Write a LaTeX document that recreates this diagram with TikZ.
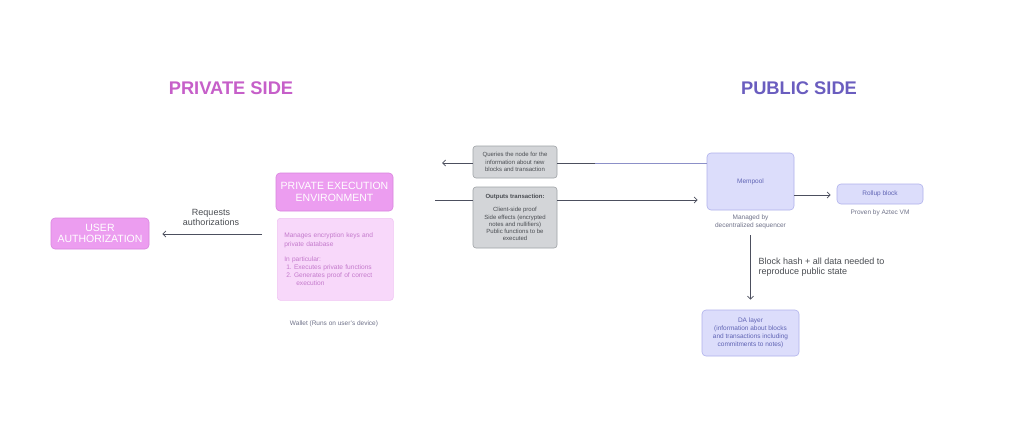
\documentclass[tikz,border=0pt]{standalone}
\usepackage{fontspec}
\setmainfont{Liberation Sans}
\usetikzlibrary{arrows.meta}
\definecolor{privtitle}{HTML}{C65FC9}
\definecolor{pubtitle}{HTML}{6A5DBF}
\definecolor{pinkfill}{HTML}{EC9DF0}
\definecolor{pinkdraw}{HTML}{D985DE}
\definecolor{lpinkfill}{HTML}{F8D8FA}
\definecolor{lpinkdraw}{HTML}{F0C4F3}
\definecolor{lpinktext}{HTML}{C47ACC}
\definecolor{grayfill}{HTML}{D3D5D8}
\definecolor{graydraw}{HTML}{9EA2A6}
\definecolor{graytext}{HTML}{4A4D52}
\definecolor{bluefill}{HTML}{DCDDFB}
\definecolor{bluedraw}{HTML}{B0B2EC}
\definecolor{bluetext}{HTML}{6064B4}
\definecolor{linecol}{HTML}{4C4F5E}
\definecolor{bluelinecol}{HTML}{8C90C8}
\definecolor{captext}{HTML}{70738A}
\tikzset{
  pinkbox/.style={draw=pinkdraw, fill=pinkfill, rounded corners=4pt, line width=0.6pt, text=white, align=center, font=\fontsize{10.5}{11.5}\selectfont},
  lpinkbox/.style={draw=lpinkdraw, fill=lpinkfill, rounded corners=3pt, line width=0.6pt, text=lpinktext, align=left, font=\fontsize{6.6}{8.2}\selectfont, anchor=north west, inner sep=7pt, text width=102pt},
  graybox/.style={draw=graydraw, fill=grayfill, rounded corners=3pt, line width=0.6pt, text=graytext, align=center, font=\fontsize{6}{7.3}\selectfont, inner sep=2pt},
  bluebox/.style={draw=bluedraw, fill=bluefill, rounded corners=4pt, line width=0.6pt, text=bluetext, align=center, font=\fontsize{6.5}{7.8}\selectfont},
  caption/.style={text=captext, align=center, font=\fontsize{6.5}{8}\selectfont},
  label/.style={text=graytext, align=center, font=\fontsize{9}{10}\selectfont},
  arr/.style={draw=linecol, line width=0.8pt, -{Straight Barb[length=3pt,width=6pt]}},
  plainline/.style={draw=linecol, line width=0.8pt},
  title/.style={font=\bfseries\fontsize{18.3}{20}\selectfont}
}
\begin{document}
\begin{tikzpicture}[x=1pt,y=-1pt]
\path[use as bounding box, fill=white] (0,0) rectangle (1030,429);

\node[title, text=privtitle] (privt) at (231,88) {PRIVATE SIDE};
\node[title, text=pubtitle] (pubt) at (799,88) {PUBLIC SIDE};

% private side
\node[pinkbox, minimum width=98pt, minimum height=31pt] (ua) at (100,233.5) {USER\\AUTHORIZATION};
\node[pinkbox, minimum width=117pt, minimum height=38pt] (pee) at (334.5,192) {PRIVATE EXECUTION\\ENVIRONMENT};
\node[lpinkbox, minimum width=116pt, minimum height=82pt] (env) at (277,218) {Manages encryption keys and private database\\[7pt]In particular:\\[-0.5pt]
\hspace*{2pt}1.\ Executes private functions\\
\hspace*{2pt}2.\ Generates proof of correct\\
\hspace*{12pt}execution};
\node[caption] (wallet) at (334,323.5) {Wallet (Runs on user's device)};

\coordinate (reqstart) at (262,234);
\draw[arr] (reqstart) -- ([xshift=13pt]ua.east |- reqstart);
\node[label] (reql) at (211,217) {Requests\\authorizations};

% gray boxes
\node[graybox, minimum width=84pt, minimum height=32pt] (q) at (515,162) {Queries the node for the\\information about new\\blocks and transaction};
\node[graybox, minimum width=84pt, minimum height=61pt] (o) at (515,217.5) {\textbf{Outputs transaction:}\\[6pt]Client-side proof\\Side effects (encrypted\\notes and nullifiers)\\Public functions to be\\executed};

% public side
\node[bluebox, minimum width=87pt, minimum height=57pt] (mem) at (750.5,181.5) {Mempool};
\node[caption] (meml) at (750.5,222) {Managed by\\decentralized sequencer};
\node[bluebox, minimum width=86pt, minimum height=20pt] (rb) at (880,194) {Rollup block};
\node[caption] (rbl) at (880,212.5) {Proven by Aztec VM};
\node[bluebox, minimum width=97pt, minimum height=46pt] (da) at (750.5,333) {DA layer\\(information about blocks\\and transactions including\\commitments to notes)};

% connectors
\coordinate (qsplit) at (595,163);
\coordinate (qend) at (442,163);
\draw[draw=bluelinecol, line width=0.8pt] (mem.west |- qsplit) -- (qsplit);
\draw[plainline] (qsplit) -- (q.east |- qsplit);
\draw[arr] (q.west |- qend) -- (qend);

\coordinate (ostart) at (435,200);
\draw[plainline] (ostart) -- (o.west |- ostart);
\draw[arr] (o.east |- ostart) -- ([xshift=-9pt]mem.west |- ostart);

\draw[arr] (mem.east |- 0,195) -- ([xshift=-6pt]rb.west |- 0,195);

\draw[arr] ([yshift=-25pt]mem.south) -- ([yshift=10pt]da.north);
\node[label, align=left, anchor=west] (bhl) at (755,267) {Block hash + all data needed to\\reproduce public state};
\end{tikzpicture}
\end{document}
